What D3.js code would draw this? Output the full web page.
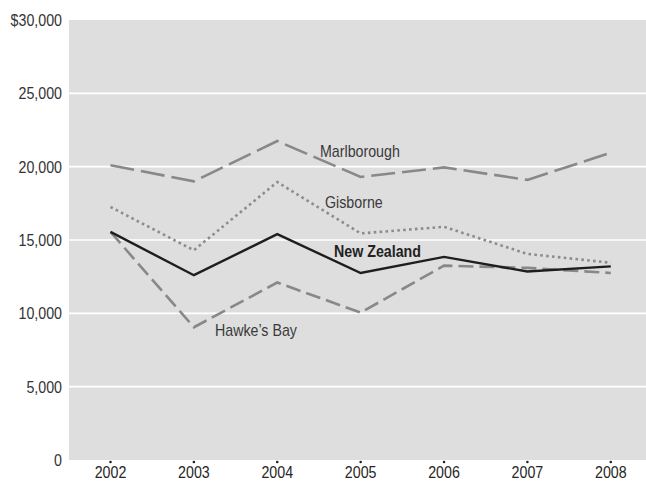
<!DOCTYPE html>
<html>
<head>
<meta charset="utf-8">
<script src="https://cdn.jsdelivr.net/npm/d3@7"></script>
<style>
  html, body { margin: 0; padding: 0; background: #fff; }
  svg { display: block; }
  text { font-family: "Liberation Sans", Arial, sans-serif; }
</style>
</head>
<body>
<svg id="chart" width="646" height="482"></svg>
<script>
// Years on the horizontal axis
const years = [2002, 2003, 2004, 2005, 2006, 2007, 2008];

// Value per region, $ by year
const marlborough = [20100, 19000, 21750, 19300, 19950, 19100, 20950];
const gisborne    = [17250, 14300, 18950, 15450, 15900, 14050, 13450];
const newZealand  = [15550, 12600, 15400, 12750, 13850, 12850, 13200];
const hawkesBay   = [15550,  9050, 12100, 10050, 13250, 13100, 12750];

// Vertical axis ticks
const yTicks = [0, 5000, 10000, 15000, 20000, 25000, 30000];
const yTickLabels = ["0", "5,000", "10,000", "15,000", "20,000", "25,000", "$30,000"];

const series = [
  { name: "Marlborough", values: marlborough, color: "#888888", width: 2.6, dash: "24,7",    label: [320, 157], bold: false },
  { name: "Gisborne",    values: gisborne,    color: "#8c8c8c", width: 2.6, dash: "2.6,3.3", label: [325, 208], bold: false },
  { name: "Hawke’s Bay", values: hawkesBay,   color: "#888888", width: 2.6, dash: "15,6",    label: [215, 336], bold: false },
  { name: "New Zealand", values: newZealand,  color: "#1e1e1e", width: 2.4, dash: null,      label: [334, 257], bold: true }
];

const svg = d3.select("#chart");
const plot = { left: 69, right: 646, top: 20, bottom: 460 };

const x = d3.scaleLinear().domain([2002, 2008]).range([110.5, 610.8]);
const y = d3.scaleLinear().domain([0, 30000]).range([plot.bottom, plot.top]);

// Plot background
svg.append("rect")
  .attr("x", plot.left).attr("y", plot.top)
  .attr("width", plot.right - plot.left).attr("height", plot.bottom - plot.top)
  .attr("fill", "#dedede");

// White gridlines
svg.append("g")
  .selectAll("line")
  .data(yTicks.filter(d => d > 0 && d < 30000))
  .join("line")
  .attr("x1", plot.left).attr("x2", plot.right)
  .attr("y1", d => y(d)).attr("y2", d => y(d))
  .attr("stroke", "#ffffff").attr("stroke-width", 1.6);

// Slightly condensed text, as in the printed figure
const squeeze = 0.89;
function label(g, txt, px, py, opts = {}) {
  return g.append("text")
    .attr("transform", `translate(${px},${py}) scale(${squeeze},1)`)
    .attr("text-anchor", opts.anchor || "start")
    .attr("font-size", opts.size || 16)
    .attr("font-weight", opts.bold ? "bold" : "normal")
    .attr("fill", opts.fill || "#333")
    .text(txt);
}

// Y axis labels
const yAxis = svg.append("g");
yTicks.forEach((t, i) => {
  label(yAxis, yTickLabels[i], 62, y(t) + 6, { anchor: "end", fill: "#333" });
});

// X axis: tick dots and year labels
const xAxis = svg.append("g");
xAxis.selectAll("circle")
  .data(years)
  .join("circle")
  .attr("cx", d => x(d)).attr("cy", 462)
  .attr("r", 1.3).attr("fill", "#222");
years.forEach(yr => label(xAxis, String(yr), x(yr), 478, { anchor: "middle", fill: "#262626" }));

// Lines
const line = d3.line()
  .x((d, i) => x(years[i]))
  .y(d => y(d));

const lines = svg.append("g").attr("fill", "none");
series.forEach(s => {
  const p = lines.append("path")
    .datum(s.values)
    .attr("d", line)
    .attr("stroke", s.color)
    .attr("stroke-width", s.width)
    .attr("stroke-linejoin", "miter");
  if (s.dash) p.attr("stroke-dasharray", s.dash);
});

// Series labels
const labels = svg.append("g");
series.forEach(s => {
  label(labels, s.name, s.label[0], s.label[1], {
    bold: s.bold, size: 16, fill: s.bold ? "#222" : "#3a3a3a"
  });
});
</script>
</body>
</html>
